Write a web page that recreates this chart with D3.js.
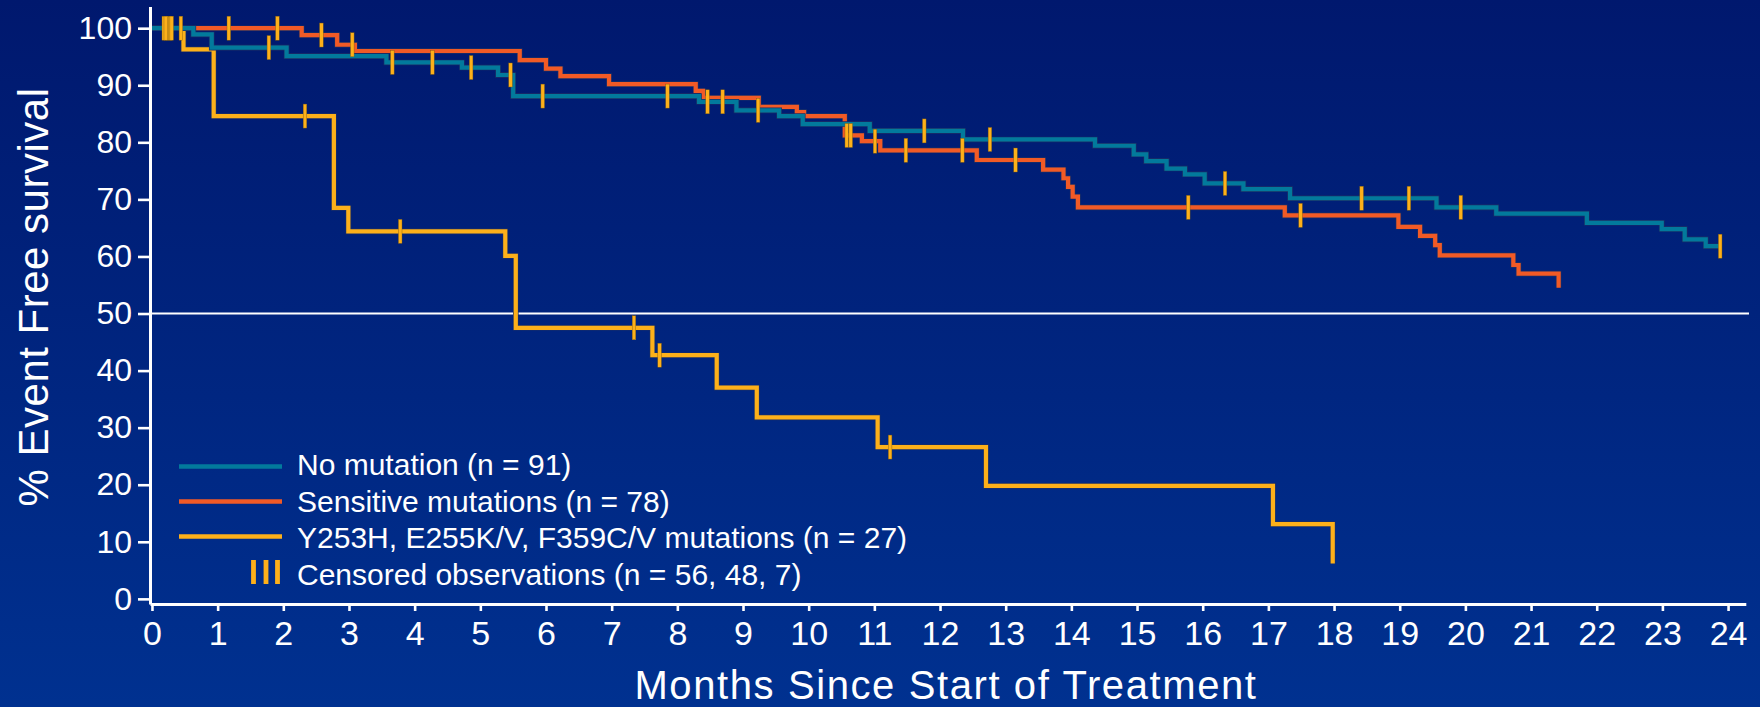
<!DOCTYPE html>
<html>
<head>
<meta charset="utf-8">
<script src="https://cdn.jsdelivr.net/npm/d3@7"></script>
<style>
    html, body { margin: 0; padding: 0; background: #00247f; }
    svg { display: block; }
    text { font-family: 'Liberation Sans', Arial, Helvetica, sans-serif; fill: #fff; }
</style>
</head>
<body>
<div id="chart"></div>
<script>
const monthTicks = d3.range(0, 25);
const pctTicks = d3.range(0, 101, 10);

const noMutation = [
    [0, 100], [0.63, 98.9], [0.91, 96.6], [2.05, 95.1], [3.57, 94.0], [4.72, 93.1],
    [5.27, 91.8], [5.50, 88.1], [8.33, 87.1], [8.90, 85.6], [9.55, 84.6], [9.91, 83.2],
    [10.93, 82.0], [12.35, 80.5], [14.36, 79.4], [14.95, 77.9], [15.14, 76.7], [15.45, 75.4],
    [15.73, 74.4], [16.03, 72.8], [16.62, 71.8], [17.33, 70.2], [19.56, 68.6], [20.47, 67.5],
    [21.85, 65.9], [22.99, 64.8], [23.34, 63.0], [23.66, 61.8], [23.88, 61.8]
];
const sensitive = [
    [0, 100], [2.28, 98.8], [2.82, 97.1], [3.09, 96.0], [5.60, 94.4], [6.00, 92.9],
    [6.22, 91.6], [6.96, 90.2], [8.28, 89.0], [8.39, 87.8], [9.24, 86.2], [9.82, 85.3],
    [9.93, 84.6], [10.55, 81.2], [10.81, 80.2], [11.09, 78.6], [12.56, 76.9], [13.57, 75.2],
    [13.88, 73.7], [13.95, 72.2], [14.02, 70.5], [14.10, 68.6], [17.25, 67.2], [18.98, 65.2],
    [19.31, 63.6], [19.54, 62.0], [19.61, 60.2], [20.73, 58.5], [20.81, 57.0], [21.42, 54.5]
];
const resistant = [
    [0, 100], [0.48, 96.3], [0.94, 84.6], [2.77, 68.5], [2.99, 64.4], [5.38, 60.1],
    [5.54, 47.5], [7.62, 42.7], [8.60, 37.0], [9.21, 31.8], [11.05, 26.6], [12.70, 19.8],
    [17.07, 13.1], [17.98, 6.2]
];

const noMutationCensored = [0.18, 0.24, 1.78, 3.66, 4.27, 4.86, 5.46, 5.95, 7.85, 8.46, 8.69, 9.23, 11.76, 12.76, 16.34, 18.42, 19.14, 19.93, 23.88];
const sensitiveCensored = [0.21, 0.28, 1.17, 1.91, 2.58, 3.05, 10.58, 10.64, 11.01, 11.48, 12.34, 13.15, 15.78, 17.49];
const resistantCensored = [0.30, 0.44, 2.33, 3.78, 7.34, 7.73, 11.24];

const legendLabels = [
    'No mutation (n = 91)',
    'Sensitive mutations (n = 78)',
    'Y253H, E255K/V, F359C/V mutations (n = 27)',
    'Censored observations (n = 56, 48, 7)'
];

const colors = { teal: '#027a9c', red: '#f15a26', yellow: '#fdb01a', censor: '#fdb01a' };

const width = 1760, height = 707;

const svg = d3.select('#chart').append('svg')
    .attr('width', width)
    .attr('height', height);

const grad = svg.append('defs').append('linearGradient')
    .attr('id', 'bg').attr('x1', 0).attr('y1', 0).attr('x2', 0).attr('y2', 1);
grad.append('stop').attr('offset', '0%').attr('stop-color', '#00186e');
grad.append('stop').attr('offset', '100%').attr('stop-color', '#003190');

svg.append('rect').attr('width', width).attr('height', height).attr('fill', 'url(#bg)');

const x = d3.scaleLinear().domain([-0.03, 24.27]).range([150, 1745.8]);
const y = d3.scaleLinear().domain([-0.9, 103.8]).range([604, 6.5]);

// 50% reference line
svg.append('line')
    .attr('x1', 150).attr('x2', 1749)
    .attr('y1', y(50)).attr('y2', y(50))
    .attr('stroke', '#fff').attr('stroke-width', 2.2);

const stepLine = d3.line()
    .x((d) => x(d[0]))
    .y((d) => y(d[1]))
    .curve(d3.curveStepAfter);

const curves = [
    { data: resistant, color: colors.yellow },
    { data: sensitive, color: colors.red },
    { data: noMutation, color: colors.teal }
];

curves.forEach((c) => {
    svg.append('path')
        .attr('d', stepLine(c.data))
        .attr('fill', 'none')
        .attr('stroke', '#1b2f66')
        .attr('stroke-width', 5.6);
    svg.append('path')
        .attr('d', stepLine(c.data))
        .attr('fill', 'none')
        .attr('stroke', c.color)
        .attr('stroke-width', 4.2);
});

const survivalAt = (data, t) => {
    let v = data[0][1];
    data.forEach((d) => { if (d[0] <= t) v = d[1]; });
    return v;
};

const censorMarks = []
    .concat(noMutationCensored.map((t) => [t, survivalAt(noMutation, t)]))
    .concat(sensitiveCensored.map((t) => [t, survivalAt(sensitive, t)]))
    .concat(resistantCensored.map((t) => [t, survivalAt(resistant, t)]));

svg.append('g').selectAll('rect')
    .data(censorMarks)
    .enter().append('rect')
    .attr('x', (d) => x(d[0]) - 1.8)
    .attr('y', (d) => y(d[1]) - 12)
    .attr('width', 3.6)
    .attr('height', 24)
    .attr('fill', colors.censor)
    .attr('stroke', '#7a5a10')
    .attr('stroke-width', 0.4);

// axes
const xAxis = svg.append('g')
    .attr('transform', 'translate(0,604)')
    .call(d3.axisBottom(x).tickValues(monthTicks).tickSize(7).tickSizeOuter(0).tickPadding(10));

const yAxis = svg.append('g')
    .attr('transform', 'translate(150,0)')
    .call(d3.axisLeft(y).tickValues(pctTicks).tickSize(12).tickSizeOuter(0).tickPadding(6));

[xAxis, yAxis].forEach((a) => {
    a.select('.domain').attr('stroke', '#fff').attr('stroke-width', 3);
    a.selectAll('.tick line').attr('stroke', '#fff').attr('stroke-width', 2.6);
    a.selectAll('.tick text').attr('fill', '#fff').style('font-family', "'Liberation Sans', Arial, sans-serif");
});
xAxis.selectAll('.tick text').style('font-size', '34px');
yAxis.selectAll('.tick text').style('font-size', '32px');

svg.append('text')
    .attr('transform', 'translate(48,297)rotate(-90)')
    .attr('text-anchor', 'middle')
    .style('font-size', '42px')
    .style('letter-spacing', '0.5px')
    .text('% Event Free survival');

svg.append('text')
    .attr('x', 946)
    .attr('y', 699)
    .attr('text-anchor', 'middle')
    .style('font-size', '40px')
    .style('letter-spacing', '1.6px')
    .text('Months Since Start of Treatment');

// legend
const legend = svg.append('g');
const legendColors = [colors.teal, colors.red, colors.yellow];
const rowY = (i) => 466.5 + i * 35;

legend.selectAll('line.key')
    .data(legendColors)
    .enter().append('line')
    .attr('class', 'key')
    .attr('x1', 179).attr('x2', 282)
    .attr('y1', (d, i) => rowY(i)).attr('y2', (d, i) => rowY(i))
    .attr('stroke', (d) => d)
    .attr('stroke-width', 4.5);

legend.selectAll('rect.cens')
    .data([253.5, 266, 277.5])
    .enter().append('rect')
    .attr('class', 'cens')
    .attr('x', (d) => d - 2.4)
    .attr('y', 560)
    .attr('width', 4.8)
    .attr('height', 24)
    .attr('fill', colors.censor);

legend.selectAll('text')
    .data(legendLabels)
    .enter().append('text')
    .attr('x', 297)
    .attr('y', (d, i) => [475, 511.5, 548, 584.5][i])
    .style('font-size', '30px')
    .text((d) => d);
</script>
</body>
</html>
